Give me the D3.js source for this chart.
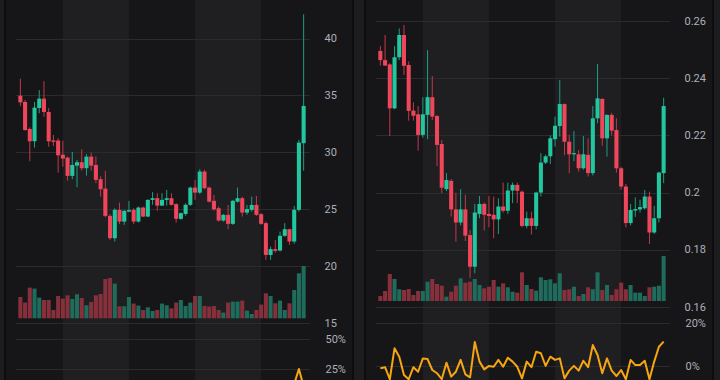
<!DOCTYPE html>
<html>
<head>
    <meta charset='utf-8'>
    <title>Candles</title>
    <style>
        html, body { margin: 0; padding: 0; background: #1d1d20; }
        svg { display: block; }
        .tick-label {
            font-family: Roboto, 'DejaVu Sans', sans-serif;
            font-size: 11px;
            fill: #aeb0b8;
        }
    </style>
</head>
<body>

    <svg id="chart" width="720" height="380"></svg>

    <script src="https://cdn.jsdelivr.net/npm/d3@7/dist/d3.min.js"></script>
    <script>

        // ---- left chart ----
        const leftOpen = [34.98, 34.43, 32.06, 30.98, 33.90, 34.72, 33.55, 31.05, 31.04, 29.80, 29.54, 27.94, 28.84, 29.14, 28.61, 29.63, 28.90, 27.65, 26.82, 24.43, 22.47, 24.96, 23.93, 24.80, 24.96, 23.93, 25.16, 24.37, 25.83, 25.98, 25.33, 25.83, 25.98, 25.46, 24.17, 24.60, 25.40, 26.91, 26.47, 28.32, 26.91, 25.75, 25.10, 24.02, 24.52, 23.73, 25.68, 25.98, 24.72, 24.96, 25.39, 24.58, 23.79, 21.00, 21.51, 21.39, 22.68, 23.26, 22.18, 24.96, 30.81];
        const leftHigh = [36.47, 34.60, 32.20, 34.43, 35.48, 36.25, 33.90, 31.53, 31.25, 31.04, 29.63, 30.04, 29.34, 30.28, 29.84, 29.98, 29.63, 27.90, 28.38, 24.60, 25.10, 25.60, 24.96, 25.74, 25.10, 25.25, 25.25, 25.90, 26.51, 26.42, 26.42, 26.71, 26.42, 25.54, 24.72, 25.54, 27.00, 27.59, 28.53, 28.47, 27.00, 26.27, 25.25, 24.60, 25.39, 25.83, 26.91, 26.12, 25.39, 26.12, 26.18, 24.67, 23.93, 21.74, 22.30, 23.05, 23.80, 23.30, 25.30, 31.10, 42.12];
        const leftLow = [34.08, 31.90, 29.23, 30.42, 33.44, 33.14, 30.50, 30.57, 28.23, 28.75, 27.53, 27.65, 26.95, 28.40, 27.96, 28.40, 27.30, 26.12, 24.32, 22.32, 22.18, 23.70, 23.64, 24.75, 23.70, 23.84, 24.32, 24.32, 25.40, 24.87, 25.30, 25.33, 25.33, 23.84, 24.08, 24.43, 25.30, 25.83, 26.36, 26.77, 25.60, 24.89, 23.93, 23.93, 23.26, 23.64, 25.60, 24.37, 24.52, 24.80, 24.43, 23.64, 20.57, 20.57, 21.20, 21.30, 22.60, 21.89, 21.97, 24.80, 28.40];
        const leftClose = [34.40, 31.97, 30.98, 33.93, 34.72, 33.55, 30.98, 30.93, 29.75, 29.46, 27.94, 28.90, 29.14, 28.61, 29.63, 28.84, 27.59, 26.77, 24.43, 22.47, 24.96, 23.93, 24.87, 24.93, 23.93, 25.16, 24.37, 25.83, 25.98, 25.33, 25.83, 25.98, 25.40, 24.17, 24.67, 25.40, 26.91, 26.47, 28.32, 26.86, 25.68, 25.00, 24.02, 24.52, 23.73, 25.75, 25.98, 24.72, 25.02, 25.39, 24.52, 23.73, 21.00, 21.51, 21.36, 22.68, 23.26, 22.18, 24.96, 30.86, 34.08];
        const leftVolume = [21.3, 15.7, 30.7, 29.7, 20.7, 18.3, 18.3, 8.3, 22.3, 19.7, 23.0, 19.3, 24.0, 20.3, 13.0, 16.3, 23.0, 24.3, 39.3, 40.3, 34.7, 12.0, 12.0, 21.3, 14.7, 12.7, 8.3, 11.0, 7.3, 8.3, 14.7, 13.0, 10.0, 15.7, 18.3, 12.3, 15.7, 22.3, 22.3, 12.3, 11.7, 12.3, 8.3, 5.7, 15.7, 16.7, 16.7, 17.7, 7.7, 4.3, 8.3, 13.7, 25.0, 22.3, 15.0, 17.7, 8.3, 15.0, 28.3, 45.0, 52.3];
        const leftChange = [-1.5, -7.1, -3.1, 9.5, 2.3, -3.4, -7.7, -0.2, -3.8, -1.0, -5.2, 3.4, 0.8, -1.8, 3.6, -2.7, -4.3, -3.0, -8.7, -8.0, 11.1, -4.1, 3.9, 0.2, -4.0, 5.1, -3.1, 6.0, 0.6, -2.5, 2.0, 0.6, -2.2, -4.8, 2.1, 3.0, 5.9, -1.6, 7.0, -5.2, -4.4, -2.6, -3.9, 2.1, -3.2, 8.5, 0.9, -4.8, 1.2, 1.5, -3.4, -3.2, -11.5, 2.4, -0.7, 6.2, 2.6, -4.6, 12.5, 25.0, 10.4];
        const leftPriceTicks = [15, 20, 25, 30, 35, 40];
        const leftChangeTicks = [25, 50];

        // ---- right chart ----
        const rightOpen = [0.2496, 0.2464, 0.2449, 0.2295, 0.2474, 0.2552, 0.2447, 0.2287, 0.2274, 0.2202, 0.2272, 0.2334, 0.2268, 0.2170, 0.2012, 0.2041, 0.1941, 0.1895, 0.1941, 0.1851, 0.1740, 0.1925, 0.1960, 0.1925, 0.1922, 0.1906, 0.1951, 0.1936, 0.2007, 0.2027, 0.2003, 0.1883, 0.1910, 0.1883, 0.2000, 0.2105, 0.2127, 0.2187, 0.2233, 0.2310, 0.2178, 0.2134, 0.2134, 0.2085, 0.2132, 0.2068, 0.2260, 0.2328, 0.2190, 0.2272, 0.2219, 0.2085, 0.2021, 0.1893, 0.1937, 0.1941, 0.1945, 0.1986, 0.1860, 0.1910, 0.2068];
        const rightHigh = [0.2513, 0.2552, 0.2453, 0.2513, 0.2575, 0.2587, 0.2459, 0.2316, 0.2303, 0.2334, 0.2499, 0.2408, 0.2272, 0.2184, 0.2068, 0.2047, 0.1999, 0.2012, 0.1992, 0.1869, 0.1960, 0.1988, 0.1965, 0.1988, 0.1986, 0.1980, 0.2035, 0.2035, 0.2035, 0.2035, 0.2007, 0.1933, 0.1933, 0.2003, 0.2138, 0.2133, 0.2200, 0.2266, 0.2394, 0.2312, 0.2202, 0.2215, 0.2149, 0.2198, 0.2190, 0.2303, 0.2450, 0.2330, 0.2274, 0.2279, 0.2260, 0.2090, 0.2030, 0.1960, 0.1983, 0.1975, 0.2009, 0.2003, 0.1953, 0.2073, 0.2332];
        const rightLow = [0.2445, 0.2443, 0.2198, 0.2292, 0.2464, 0.2412, 0.2252, 0.2252, 0.2147, 0.2192, 0.2187, 0.2254, 0.2093, 0.1998, 0.2005, 0.1916, 0.1828, 0.1885, 0.1830, 0.1700, 0.1717, 0.1910, 0.1867, 0.1878, 0.1840, 0.1855, 0.1930, 0.1925, 0.1963, 0.1963, 0.1878, 0.1875, 0.1853, 0.1871, 0.1986, 0.2100, 0.2100, 0.2161, 0.2196, 0.2131, 0.2068, 0.2110, 0.2073, 0.2080, 0.2056, 0.2060, 0.2243, 0.2164, 0.2126, 0.2200, 0.2070, 0.2010, 0.1878, 0.1885, 0.1915, 0.1930, 0.1940, 0.1820, 0.1855, 0.1895, 0.2033];
        const rightClose = [0.2464, 0.2445, 0.2295, 0.2474, 0.2552, 0.2444, 0.2286, 0.2269, 0.2202, 0.2274, 0.2334, 0.2266, 0.2167, 0.2017, 0.2044, 0.1941, 0.1895, 0.1941, 0.1849, 0.1740, 0.1930, 0.1960, 0.1922, 0.1918, 0.1906, 0.1951, 0.1936, 0.2007, 0.2027, 0.2006, 0.1883, 0.1910, 0.1883, 0.2000, 0.2105, 0.2127, 0.2190, 0.2234, 0.2310, 0.2178, 0.2134, 0.2138, 0.2085, 0.2134, 0.2068, 0.2260, 0.2330, 0.2190, 0.2272, 0.2217, 0.2085, 0.2021, 0.1893, 0.1939, 0.1942, 0.1949, 0.1986, 0.1860, 0.1910, 0.2070, 0.2303];
        const rightVolume = [5.0, 10.0, 27.0, 22.0, 11.7, 11.0, 12.0, 6.0, 10.0, 10.0, 19.3, 22.0, 17.0, 15.3, 4.3, 9.3, 15.3, 22.7, 18.3, 19.3, 22.0, 16.0, 12.7, 14.3, 21.0, 14.3, 17.7, 13.7, 9.3, 8.3, 28.7, 16.0, 12.0, 10.3, 23.7, 21.0, 21.7, 17.7, 27.7, 11.0, 11.7, 14.3, 5.0, 7.0, 13.7, 11.7, 28.7, 11.0, 16.0, 6.0, 11.7, 18.3, 11.7, 16.0, 8.3, 8.3, 5.0, 13.7, 14.3, 15.3, 45.0];
        const rightChange = [-1.2, -0.7, -6.3, 8.1, 4.2, -4.3, -6.3, -0.7, -2.8, 3.4, 3.1, -2.0, -3.5, -6.3, 1.4, -5.1, -2.8, 2.7, -4.0, -5.4, 11.0, 1.9, -1.7, -0.1, -0.5, 2.7, -0.5, 3.7, 1.9, -0.5, -5.9, 1.9, -0.7, 6.5, 5.8, -0.1, 4.2, 2.7, 3.4, -5.9, -2.3, -0.1, -2.3, 2.3, -0.7, 9.6, 5.0, -3.5, 3.4, -2.3, -4.8, -2.0, -6.3, 2.7, 0.3, 0.3, 2.3, -6.3, 1.9, 8.8, 11.2];
        const rightPriceTicks = [0.16, 0.18, 0.2, 0.22, 0.24, 0.26];
        const rightChangeTicks = [0, 20];

        // shaded time bands, as candle index ranges
        const lightBands = [[9, 23], [37, 51]];

        const COLORS = {
            panel: '#161618',
            band: '#1f1f22',
            frame: '#0d0d0f',
            grid: '#2a2b2f',
            upBody: '#22c7a0',
            downBody: '#f0465b',
            upWick: '#1b9f80',
            downWick: '#c0394b',
            upVol: '#1f6b5c',
            downVol: '#86303c',
            change: '#f7a511'
        };

        const PLOT_LEFT = 16, PLOT_RIGHT = 310, LABEL_X = 324.5;

        const svg = d3.select('#chart');

        function drawPanel(offsetX, d) {
            const g = svg.append('g').attr('transform', `translate(${offsetX}, 0)`);

            // panel frame
            g.append('rect')
                .attr('x', 5).attr('y', -10)
                .attr('width', 348).attr('height', 400)
                .attr('fill', COLORS.panel)
                .attr('stroke', COLORS.frame)
                .attr('stroke-width', 2);

            const xScale = d3.scaleBand()
                .domain(d3.range(d.close.length))
                .range([18, 306])
                .paddingInner(0.14)
                .paddingOuter(0.07);
            const cx = i => xScale(i) + xScale.bandwidth() / 2;

            const yPrice = d3.scaleLinear().domain(d.priceDomain).range(d.priceRange);
            const yVol = d3.scaleLinear().domain([0, d3.max(d.volume)]).range(d.volRange);
            const yChange = d3.scaleLinear().domain(d.changeDomain).range(d.changeRange);

            // background bands
            g.selectAll('.band')
                .data(lightBands)
                .enter()
                .append('rect')
                .attr('x', b => cx(b[0]))
                .attr('width', b => cx(b[1]) - cx(b[0]))
                .attr('y', -10)
                .attr('height', 400)
                .attr('fill', COLORS.band);

            // grid lines + labels
            const priceG = g.append('g');
            priceG.selectAll('line')
                .data(d.priceTicks)
                .enter()
                .append('line')
                .attr('x1', PLOT_LEFT).attr('x2', PLOT_RIGHT)
                .attr('y1', t => Math.round(yPrice(t)) + 0.5)
                .attr('y2', t => Math.round(yPrice(t)) + 0.5)
                .attr('stroke', COLORS.grid);
            priceG.selectAll('text')
                .data(d.priceTicks)
                .enter()
                .append('text')
                .classed('tick-label', true)
                .attr('x', LABEL_X)
                .attr('y', t => yPrice(t))
                .attr('dy', '0.35em')
                .text(d3.format('~g'));

            const changeG = g.append('g');
            changeG.selectAll('line')
                .data(d.changeTicks)
                .enter()
                .append('line')
                .attr('x1', PLOT_LEFT).attr('x2', PLOT_RIGHT)
                .attr('y1', t => Math.round(yChange(t)) + 0.5)
                .attr('y2', t => Math.round(yChange(t)) + 0.5)
                .attr('stroke', COLORS.grid);
            changeG.selectAll('text')
                .data(d.changeTicks)
                .enter()
                .append('text')
                .classed('tick-label', true)
                .attr('x', LABEL_X + 1)
                .attr('y', t => yChange(t))
                .attr('dy', '0.35em')
                .text(t => t + '%');

            const idx = d3.range(d.close.length);
            const isUp = i => d.close[i] >= d.open[i];

            // volume
            g.append('g')
                .selectAll('rect')
                .data(idx)
                .enter()
                .append('rect')
                .attr('x', i => xScale(i))
                .attr('width', xScale.bandwidth())
                .attr('y', i => yVol(d.volume[i]))
                .attr('height', i => yVol(0) - yVol(d.volume[i]))
                .attr('fill', i => isUp(i) ? COLORS.upVol : COLORS.downVol);

            // wicks
            g.append('g')
                .selectAll('line')
                .data(idx)
                .enter()
                .append('line')
                .attr('x1', cx).attr('x2', cx)
                .attr('y1', i => yPrice(d.high[i]))
                .attr('y2', i => yPrice(d.low[i]))
                .attr('stroke', i => isUp(i) ? COLORS.upWick : COLORS.downWick)
                .attr('stroke-width', 1);

            // bodies
            g.append('g')
                .selectAll('rect')
                .data(idx)
                .enter()
                .append('rect')
                .attr('x', i => xScale(i))
                .attr('width', xScale.bandwidth())
                .attr('y', i => yPrice(Math.max(d.open[i], d.close[i])))
                .attr('height', i => Math.max(1, Math.abs(yPrice(d.open[i]) - yPrice(d.close[i]))))
                .attr('fill', i => isUp(i) ? COLORS.upBody : COLORS.downBody);

            // percent change line
            const line = d3.line()
                .x(i => cx(i))
                .y(i => yChange(d.change[i]));
            g.append('path')
                .datum(idx)
                .attr('d', line)
                .attr('fill', 'none')
                .attr('stroke', COLORS.change)
                .attr('stroke-width', 2)
                .attr('stroke-linejoin', 'round');
        }

        drawPanel(0, {
            open: leftOpen, high: leftHigh, low: leftLow, close: leftClose,
            volume: leftVolume, change: leftChange,
            priceTicks: leftPriceTicks, changeTicks: leftChangeTicks,
            priceDomain: [15, 40], priceRange: [323.3, 38.5],
            volRange: [318.3, 266],
            changeDomain: [0, 50], changeRange: [399, 339]
        });

        drawPanel(360, {
            open: rightOpen, high: rightHigh, low: rightLow, close: rightClose,
            volume: rightVolume, change: rightChange,
            priceTicks: rightPriceTicks, changeTicks: rightChangeTicks,
            priceDomain: [0.16, 0.26], priceRange: [306.7, 21.3],
            volRange: [301, 256],
            changeDomain: [0, 20], changeRange: [365.7, 322.7]
        });

    </script>
</body>
</html>
